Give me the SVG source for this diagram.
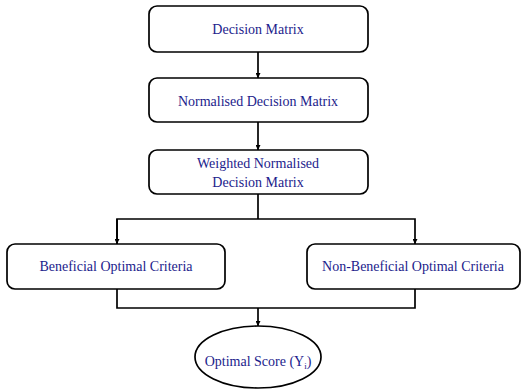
<svg xmlns="http://www.w3.org/2000/svg" width="521" height="389" viewBox="0 0 521 389">
  <style>
    .box { fill: #ffffff; stroke: #000000; stroke-width: 1.7; }
    .lbl { font-family: 'Liberation Serif', 'DejaVu Serif', serif; font-size: 14px; fill: #1c1c8c; text-anchor: middle; }
    .wire { fill: none; stroke: #000000; stroke-width: 1.7; }
  </style>
  <defs>
    <marker id="arrow" viewBox="0 0 8 8" refX="8" refY="4" markerWidth="5" markerHeight="5" orient="auto" markerUnits="userSpaceOnUse">
      <path d="M0,0 L8,4 L0,8 Z" fill="#000000"/>
    </marker>
  </defs>
  <rect width="521" height="389" fill="#ffffff"/>

  <g id="connectors">
    <line class="wire" x1="258" y1="52" x2="258" y2="78" marker-end="url(#arrow)"/>
    <line class="wire" x1="258" y1="122" x2="258" y2="150" marker-end="url(#arrow)"/>
    <line class="wire" x1="258" y1="194" x2="258" y2="219"/>
    <polyline class="wire" points="117,244 117,219 415,219 415,244" marker-end="url(#arrow)"/>
    <line class="wire" x1="117" y1="219" x2="117" y2="244" marker-end="url(#arrow)"/>
    <polyline class="wire" points="117,289 117,308 415,308 415,289"/>
    <line class="wire" x1="258" y1="308" x2="258" y2="326" marker-end="url(#arrow)"/>
  </g>

  <g id="decision-matrix">
    <rect class="box" x="149" y="6" width="219" height="46" rx="8"/>
    <text class="lbl" x="258" y="34">Decision Matrix</text>
  </g>
  <g id="normalised-decision-matrix">
    <rect class="box" x="149" y="78" width="219" height="44" rx="8"/>
    <text class="lbl" x="258" y="106">Normalised Decision Matrix</text>
  </g>
  <g id="weighted-normalised-decision-matrix">
    <rect class="box" x="149" y="150" width="219" height="44" rx="8"/>
    <text class="lbl" x="258" y="168">Weighted Normalised</text>
    <text class="lbl" x="258" y="187">Decision Matrix</text>
  </g>
  <g id="beneficial-optimal-criteria">
    <rect class="box" x="7" y="244" width="218" height="45" rx="8"/>
    <text class="lbl" x="116" y="271">Beneficial Optimal Criteria</text>
  </g>
  <g id="non-beneficial-optimal-criteria">
    <rect class="box" x="307" y="244" width="213" height="45" rx="8"/>
    <text class="lbl" x="413" y="271">Non-Beneficial Optimal Criteria</text>
  </g>
  <g id="optimal-score">
    <ellipse class="box" cx="258" cy="357" rx="63" ry="31"/>
    <text class="lbl" x="258" y="366">Optimal Score (Y<tspan font-size="9" dy="3">i</tspan><tspan dy="-3">)</tspan></text>
  </g>
</svg>
